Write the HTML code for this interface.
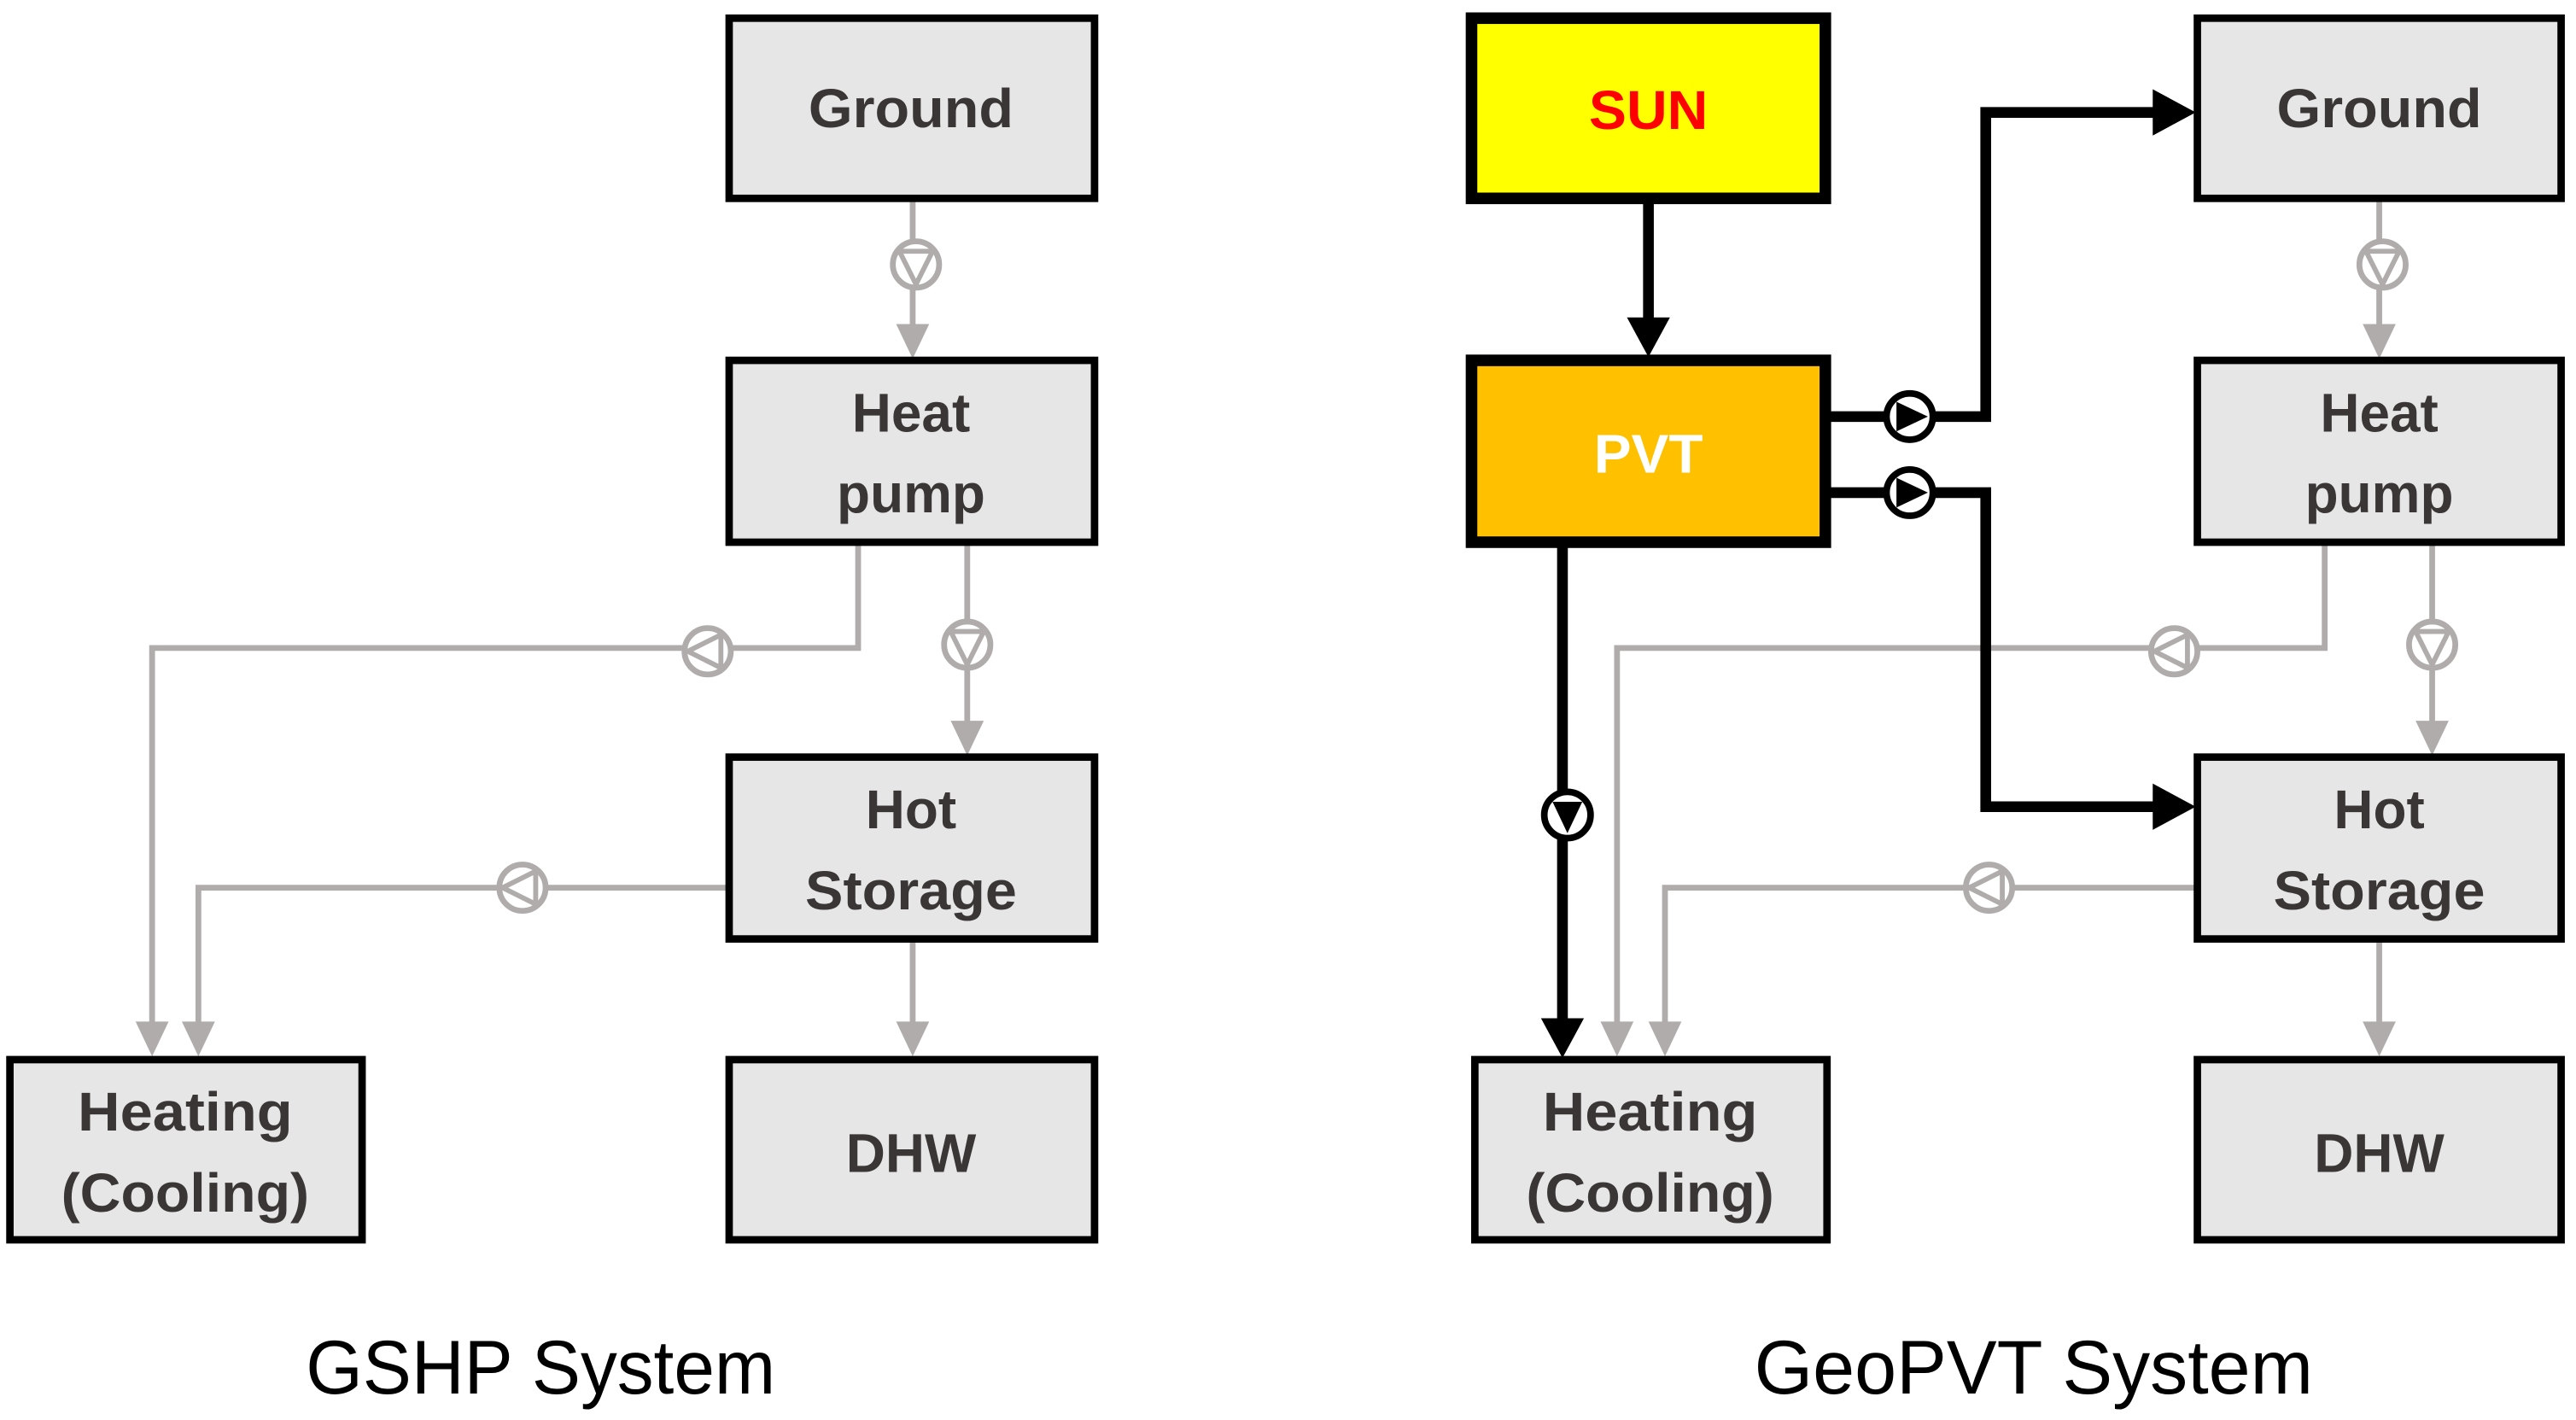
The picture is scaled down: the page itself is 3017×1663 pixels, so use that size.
<!DOCTYPE html>
<html><head><meta charset="utf-8"><style>
html,body{margin:0;padding:0;background:#fff;}
svg{display:block;}
text{font-family:"Liberation Sans",sans-serif;}
</style></head><body>
<svg width="3017" height="1663" viewBox="0 0 1558 859" preserveAspectRatio="none" xmlns="http://www.w3.org/2000/svg">
<defs>
<g id="pg">
<circle cx="0" cy="0" r="14" fill="#fff" stroke="#b0acac" stroke-width="3.5"/>
<polygon points="-10,-8 10,-8 0,12" fill="none" stroke="#b0acac" stroke-width="3"/>
</g>
<g id="pb">
<circle cx="0" cy="0" r="14" fill="#fff" stroke="#000" stroke-width="4"/>
<polygon points="-9,-8 9,-8 0,11" fill="#000"/>
</g>
</defs>
<rect width="1558" height="859" fill="#fff"/>

<g stroke="#b0acac" stroke-width="3.5" fill="none">
<line x1="552" y1="121" x2="552" y2="200"/>
<polyline points="519,329 519,392 92,392 92,622"/>
<line x1="585" y1="329" x2="585" y2="440"/>
<polyline points="440,537 120,537 120,622"/>
<line x1="552" y1="569" x2="552" y2="622"/>
</g>
<g fill="#b0acac">
<polygon points="542,196 562,196 552,217"/>
<polygon points="82,618 102,618 92,639"/>
<polygon points="110,618 130,618 120,639"/>
<polygon points="575,436 595,436 585,457"/>
<polygon points="542,618 562,618 552,639"/>
</g>
<use href="#pg" transform="translate(554,160)"/>
<use href="#pg" transform="translate(585,390)"/>
<use href="#pg" transform="translate(428,394) rotate(90)"/>
<use href="#pg" transform="translate(316,537) rotate(90)"/>

<g stroke="#b0acac" stroke-width="3.5" fill="none">
<line x1="1439" y1="121" x2="1439" y2="200"/>
<polyline points="1406,329 1406,392 978,392 978,622"/>
<line x1="1471" y1="329" x2="1471" y2="440"/>
<polyline points="1327,537 1007,537 1007,622"/>
<line x1="1439" y1="569" x2="1439" y2="622"/>
</g>
<g fill="#b0acac">
<polygon points="1429,196 1449,196 1439,217"/>
<polygon points="968,618 988,618 978,639"/>
<polygon points="997,618 1017,618 1007,639"/>
<polygon points="1461,436 1481,436 1471,457"/>
<polygon points="1429,618 1449,618 1439,639"/>
</g>
<use href="#pg" transform="translate(1441,160)"/>
<use href="#pg" transform="translate(1471,390)"/>
<use href="#pg" transform="translate(1315,394) rotate(90)"/>
<use href="#pg" transform="translate(1203,537) rotate(90)"/>

<g stroke="#000" stroke-width="6.5" fill="none">
<line x1="997" y1="121" x2="997" y2="196"/>
<line x1="945" y1="329" x2="945" y2="620"/>
<polyline points="1104,252 1201,252 1201,68 1305,68"/>
<polyline points="1104,298 1201,298 1201,488 1305,488"/>
</g>
<g fill="#000">
<polygon points="984,192 1010,192 997,216"/>
<polygon points="932,616 958,616 945,640"/>
<polygon points="1302,54 1302,82 1328,68"/>
<polygon points="1302,474 1302,502 1328,488"/>
</g>
<use href="#pb" transform="translate(948,493)"/>
<use href="#pb" transform="translate(1155,252) rotate(-90)"/>
<use href="#pb" transform="translate(1155,298) rotate(-90)"/>

<g fill="#e6e6e6" stroke="#000" stroke-width="4.5">
<rect x="441" y="11" width="221" height="109"/>
<rect x="441" y="218" width="221" height="110"/>
<rect x="441" y="458" width="221" height="110"/>
<rect x="441" y="641" width="221" height="109"/>
<rect x="6" y="641" width="213" height="109"/>
<rect x="1329" y="11" width="220" height="109"/>
<rect x="1329" y="218" width="220" height="110"/>
<rect x="1329" y="458" width="220" height="110"/>
<rect x="1329" y="641" width="220" height="109"/>
<rect x="892" y="641" width="213" height="109"/>
</g>
<rect x="890" y="11" width="214" height="109" fill="#ffff00" stroke="#000" stroke-width="7"/>
<rect x="890" y="218" width="214" height="110" fill="#ffc000" stroke="#000" stroke-width="7"/>

<g font-weight="bold" font-size="33" fill="#3a3636" text-anchor="middle">
<text x="551" y="77" textLength="124" lengthAdjust="spacingAndGlyphs">Ground</text>
<text x="551" y="261">Heat</text>
<text x="551" y="310">pump</text>
<text x="551" y="501">Hot</text>
<text x="551" y="550" textLength="128" lengthAdjust="spacingAndGlyphs">Storage</text>
<text x="551" y="709">DHW</text>
<text x="112" y="684" textLength="130" lengthAdjust="spacingAndGlyphs">Heating</text>
<text x="112" y="733" textLength="150" lengthAdjust="spacingAndGlyphs">(Cooling)</text>
<text x="1439" y="77" textLength="124" lengthAdjust="spacingAndGlyphs">Ground</text>
<text x="1439" y="261">Heat</text>
<text x="1439" y="310">pump</text>
<text x="1439" y="501">Hot</text>
<text x="1439" y="550" textLength="128" lengthAdjust="spacingAndGlyphs">Storage</text>
<text x="1439" y="709">DHW</text>
<text x="998" y="684" textLength="130" lengthAdjust="spacingAndGlyphs">Heating</text>
<text x="998" y="733" textLength="150" lengthAdjust="spacingAndGlyphs">(Cooling)</text>
<text x="997" y="78" fill="#ff0000" textLength="72" lengthAdjust="spacingAndGlyphs">SUN</text>
<text x="997" y="286" fill="#ffffff" textLength="66" lengthAdjust="spacingAndGlyphs">PVT</text>
</g>
<g font-size="46" fill="#000" text-anchor="middle">
<text x="327" y="843" textLength="284" lengthAdjust="spacingAndGlyphs">GSHP System</text>
<text x="1230" y="843" textLength="338" lengthAdjust="spacingAndGlyphs">GeoPVT System</text>
</g>
</svg>
</body></html>
